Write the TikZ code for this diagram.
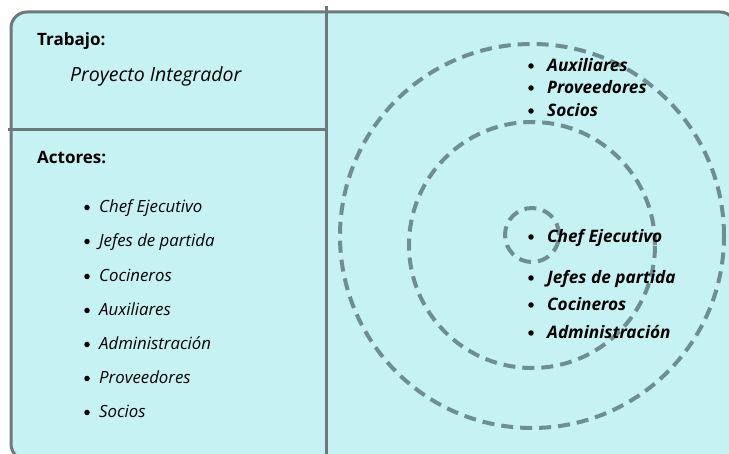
\documentclass[tikz,border=0pt]{standalone}
\usepackage{fontspec}
\setmainfont{Open Sans}
\begin{document}
\begin{tikzpicture}[x=1pt,y=-1pt,
  framecol/.style={draw=frameGray,line width=3pt},
  ring/.style={draw=ringGray,line width=4pt,dash pattern=on 12pt off 7pt},
  heading/.style={anchor=base west,inner sep=0pt,font=\fontsize{17}{20}\selectfont\bfseries},
  leftitem/.style={anchor=base west,inner sep=0pt,font=\fontsize{16.8}{20}\selectfont\itshape},
  rightitem/.style={anchor=base west,inner sep=0pt,font=\fontsize{17.2}{20}\selectfont\bfseries\itshape},
  bulletdot/.style={circle,fill=black,inner sep=0pt,minimum size=5.5pt}]
\definecolor{panelFill}{HTML}{C6F2F4}
\definecolor{frameGray}{HTML}{6E7779}
\definecolor{ringGray}{HTML}{6F8E92}
\useasboundingbox (0,0) rectangle (729,454);
\clip (0,0) rectangle (729,454);
% panel with rounded corners (right and bottom edges run past the page)
\draw[framecol,fill=panelFill,rounded corners=16pt] (11,12) rectangle (736,460);
% dividers
\coordinate (vtop) at (326,6);
\coordinate (vbot) at (326,456);
\coordinate (hleft) at (8,130);
\coordinate (hright) at (326,130);
\draw[framecol] (vtop) -- (vbot);
\draw[framecol] (hleft) -- (hright);

% top-left cell
\node[heading] (trabajo) at (37,46) {Trabajo:};
\node[anchor=base west,inner sep=0pt,font=\fontsize{19.5}{22}\selectfont\itshape] (proyecto) at (70,82) {Proyecto Integrador};

% bottom-left cell
\node[heading] (actores) at (37,164) {Actores:};
\foreach \name/\txt/\y in {l1/Chef Ejecutivo/213,l2/Jefes de partida/247,l3/Cocineros/282,
    l4/Auxiliares/316,l5/Administración/350,l6/Proveedores/384,l7/Socios/418}{
  \node[bulletdot] (\name b) at (87,\y-5.5) {};
  \node[leftitem] (\name) at (99,\y) {\txt};
}

% concentric dashed rings
\node[ring,circle,minimum size=384pt,inner sep=0pt] (outer) at (532,236) {};
\node[ring,circle,minimum size=246pt,inner sep=0pt] (middle) at (532,245) {};
\node[ring,circle,minimum size=54pt,inner sep=0pt] (core) at (532,235) {};

% ring labels
\foreach \name/\txt/\y in {r1/Auxiliares/72,r2/Proveedores/94,r3/Socios/117,
    r4/Chef Ejecutivo/243,r5/Jefes de partida/284,r6/Cocineros/311,r7/Administración/339}{
  \node[bulletdot] (\name b) at (531,\y-6) {};
  \node[rightitem] (\name) at (547,\y) {\txt};
}
\end{tikzpicture}
\end{document}
